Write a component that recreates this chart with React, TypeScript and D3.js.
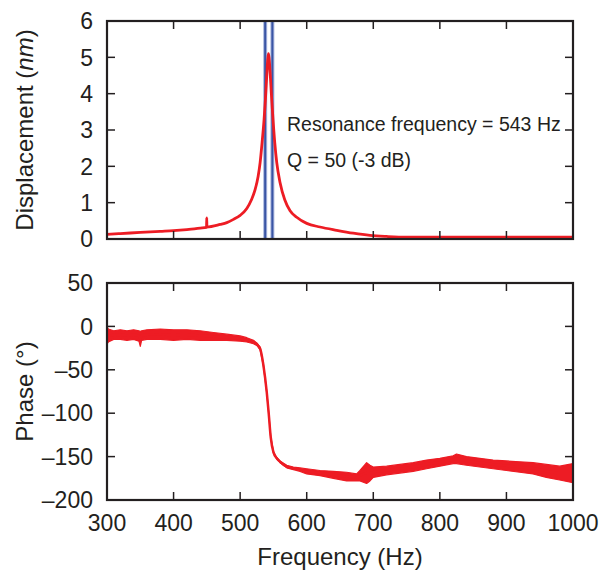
import React from "react";
import * as d3 from "d3";

// Displacement amplitude (nm) vs frequency (Hz)
const dispFreq = [300, 320, 350, 380, 400, 420, 440, 449.5, 449.8, 450.1, 470, 480, 490, 500, 510, 517, 522, 527, 530, 533, 536, 538, 540, 541.5, 542.5, 543.5, 545, 547, 549, 552, 555, 560, 567, 575, 585, 600, 620, 645, 670, 695, 720, 750, 800, 900, 1000];
const dispVal = [0.13, 0.15, 0.18, 0.21, 0.23, 0.26, 0.3, 0.32, 0.58, 0.33, 0.4, 0.45, 0.54, 0.65, 0.84, 1.08, 1.33, 1.72, 2.1, 2.66, 3.3, 3.85, 4.5, 4.95, 5.1, 4.98, 4.6, 3.97, 3.4, 2.65, 2.1, 1.55, 1.08, 0.78, 0.6, 0.43, 0.33, 0.24, 0.16, 0.1, 0.07, 0.05, 0.05, 0.05, 0.05];

// Phase (deg) noisy band: upper and lower envelopes
const phaseFreq = [300, 302, 310, 320, 330, 340, 348, 350, 352, 360, 380, 400, 420, 440, 460, 480, 500, 510, 520, 525, 530, 535, 540, 543, 546, 550, 555, 560, 570, 580, 590, 600, 620, 640, 660, 675, 680, 690, 695, 700, 720, 740, 760, 780, 800, 820, 825, 840, 860, 880, 900, 920, 940, 960, 980, 1000];
const phaseHi = [0, -3, -5, -4, -5, -4, -5, -6, -5, -4, -3, -4, -4, -5, -7, -9, -11, -13, -16, -19, -24, -44, -75, -100, -127, -144, -151, -155, -160, -162, -163, -164, -166, -167, -168, -170, -166, -157, -160, -162, -161, -159, -157, -154, -152, -149, -147, -150, -152, -154, -155, -156, -157, -159, -161, -158];
const phaseLo = [-20, -18, -15, -15, -16, -15, -17, -23, -16, -15, -15, -16, -15, -16, -16, -16, -17, -18, -20, -22, -27, -46, -77, -102, -129, -146, -153, -157, -163, -165, -167, -170, -172, -175, -178, -178, -178, -181, -178, -174, -171, -169, -167, -164, -161, -158, -158, -160, -162, -164, -166, -168, -170, -174, -177, -180];

// Bandwidth markers (Hz)
const markerFreq = [537.6, 548.4];

const xTicks = [300, 400, 500, 600, 700, 800, 900, 1000];
const dispTicks = [0, 1, 2, 3, 4, 5, 6];
const phaseTicks = [50, 0, -50, -100, -150, -200];

const annotations = ["Resonance frequency = 543 Hz", "Q = 50 (-3 dB)"];

const INK = "#231f20";
const RED = "#ed1c24";
const FONT = "'Liberation Sans', Arial, Helvetica, sans-serif";

export default function App() {
  const L = 107, R = 573;
  const top1 = 21, bot1 = 239;
  const top2 = 283, bot2 = 500;
  const x = d3.scaleLinear().domain([300, 1000]).range([L, R]);
  const y1 = d3.scaleLinear().domain([0, 6]).range([bot1, top1]);
  const y2 = d3.scaleLinear().domain([-200, 50]).range([bot2, top2]);

  const dispData = dispFreq.map((f, i) => [f, dispVal[i]] as [number, number]);
  const dispLine = d3.line<[number, number]>().x(d => x(d[0])).y(d => y1(d[1])).curve(d3.curveMonotoneX)(dispData) || "";

  const phaseData = phaseFreq.map((f, i) => ({ f, hi: phaseHi[i], lo: phaseLo[i] }));
  const phaseArea = d3.area<{ f: number; hi: number; lo: number }>()
    .x(d => x(d.f)).y0(d => y2(d.lo)).y1(d => y2(d.hi)).curve(d3.curveLinear)(phaseData) || "";
  const phaseMid = d3.line<{ f: number; hi: number; lo: number }>()
    .x(d => x(d.f)).y(d => y2((d.hi + d.lo) / 2)).curve(d3.curveMonotoneX)(phaseData) || "";

  const TL = 8;
  const tickFont = 23;

  const frame = (t: number, b: number, yScale: d3.ScaleLinear<number, number>, yt: number[]) => (
    <g>
      {xTicks.slice(1, -1).map(v => (
        <g key={"xt" + v}>
          <line x1={x(v)} x2={x(v)} y1={t} y2={t + TL} stroke={INK} strokeWidth={1.5} />
          <line x1={x(v)} x2={x(v)} y1={b} y2={b - TL} stroke={INK} strokeWidth={1.5} />
        </g>
      ))}
      {yt.filter(v => yScale(v) > t + 1 && yScale(v) < b - 1).map(v => (
        <g key={"yt" + v}>
          <line x1={L} x2={L + TL} y1={yScale(v)} y2={yScale(v)} stroke={INK} strokeWidth={1.5} />
          <line x1={R} x2={R - TL} y1={yScale(v)} y2={yScale(v)} stroke={INK} strokeWidth={1.5} />
        </g>
      ))}
      <rect x={L} y={t} width={R - L} height={b - t} fill="none" stroke={INK} strokeWidth={2.2} />
      {yt.map(v => (
        <text key={"yl" + v} x={L - 14} y={yScale(v)} dy="0.36em" textAnchor="end" fontSize={tickFont} fill={INK}>
          {v < 0 ? "\u2013" + Math.abs(v) : String(v)}
        </text>
      ))}
    </g>
  );

  return (
    <svg width={600} height={571} style={{ position: "absolute", left: 0, top: 0, background: "#fff" }} fontFamily={FONT}>
      <rect width={600} height={571} fill="#fff" />
      {/* Top panel */}
      {markerFreq.map(f => (
        <g key={"m" + f}>
          <line x1={x(f)} x2={x(f)} y1={top1} y2={bot1} stroke="#a9b6dc" strokeWidth={4} />
          <line x1={x(f)} x2={x(f)} y1={top1} y2={bot1} stroke="#3a55a5" strokeWidth={2} />
        </g>
      ))}
      <path d={dispLine} fill="none" stroke={RED} strokeWidth={2.8} strokeLinejoin="round" />
      {frame(top1, bot1, y1, dispTicks)}
      {annotations.map((a, i) => (
        <text key={a} x={287} y={131 + i * 36} fontSize={19.5} fill={INK}>{a}</text>
      ))}
      <text transform={`translate(33,${(top1 + bot1) / 2}) rotate(-90)`} textAnchor="middle" fontSize={24} fill={INK}>
        Displacement (<tspan fontStyle="italic">nm</tspan>)
      </text>

      {/* Bottom panel */}
      <path d={phaseArea} fill={RED} stroke={RED} strokeWidth={1.2} strokeLinejoin="round" />
      <path d={phaseMid} fill="none" stroke={RED} strokeWidth={2.5} />
      {frame(top2, bot2, y2, phaseTicks)}
      {xTicks.map(v => (
        <text key={"xl" + v} x={x(v)} y={531} textAnchor="middle" fontSize={tickFont} fill={INK}>{v}</text>
      ))}
      <text transform={`translate(33,${(top2 + bot2) / 2}) rotate(-90)`} textAnchor="middle" fontSize={24} fill={INK}>
        Phase (°)
      </text>
      <text x={(L + R) / 2} y={565} textAnchor="middle" fontSize={24} fill={INK}>Frequency (Hz)</text>
    </svg>
  );
}
